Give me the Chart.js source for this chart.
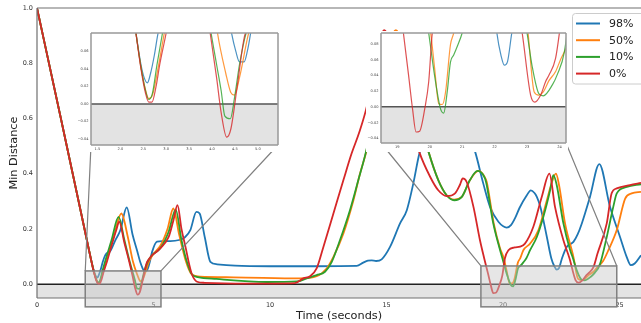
<!DOCTYPE html>
<html>
<head>
<meta charset="utf-8">
<script src="https://cdn.jsdelivr.net/npm/chart.js@4.4.1/dist/chart.umd.min.js"></script>
<style>
  html, body { margin: 0; padding: 0; background: #fff; }
  #wrap { position: relative; width: 641px; height: 323px; overflow: hidden; }
  #main { position: absolute; left: 0; top: 0; }
  .inset { position: absolute; background: #fff; }
  .inset canvas { position: absolute; left: 0; top: 0; }
</style>
</head>
<body>
<div id="wrap">
  <canvas id="main" width="641" height="323"></canvas>
  <div class="inset" style="left:78px;top:31px;width:202px;height:121px"><canvas id="in1" width="202" height="121"></canvas></div>
  <div class="inset" style="left:366px;top:31px;width:202px;height:121px"><canvas id="in2" width="202" height="121"></canvas></div>
</div>
<script>
// series: [time (s), min distance]
const labels = ['98%', '50%', '10%', '0%'];
const colors = ['#1f77b4', '#ff7f0e', '#2ca02c', '#d62728'];

const dist98 = [[0,1.0],[1,0.61],[2,0.215],[2.33,0.085],[2.45,0.045],[2.52,0.03],[2.59,0.024],[2.66,0.035],[2.74,0.055],[2.82,0.08],[2.93,0.105],[3.05,0.115],[3.12,0.117],[3.36,0.159],[3.58,0.196],[3.85,0.278],[4.1,0.18],[4.3,0.12],[4.43,0.08],[4.52,0.06],[4.6,0.048],[4.7,0.048],[4.77,0.06],[4.84,0.08],[4.94,0.117],[5.15,0.154],[5.4,0.156],[5.72,0.156],[6.1,0.16],[6.35,0.17],[6.58,0.196],[6.84,0.262],[6.98,0.256],[7.2,0.17],[7.44,0.081],[7.73,0.072],[8.5,0.067],[10,0.065],[12,0.065],[13.72,0.066],[14.0,0.078],[14.2,0.085],[14.36,0.086],[14.55,0.084],[14.79,0.09],[15.15,0.135],[15.58,0.22],[15.87,0.268],[16.15,0.365],[16.41,0.473],[17.6,0.74],[18.8,0.48],[19.15,0.365],[19.44,0.28],[19.8,0.226],[20.16,0.205],[20.35,0.215],[20.52,0.24],[20.7,0.275],[21.02,0.322],[21.19,0.34],[21.35,0.33],[21.45,0.316],[21.6,0.28],[21.88,0.171],[22.07,0.094],[22.2,0.065],[22.3,0.053],[22.4,0.058],[22.53,0.094],[22.73,0.135],[23.02,0.153],[23.2,0.18],[23.38,0.22],[23.73,0.316],[24.13,0.435],[24.59,0.28],[25.02,0.171],[25.3,0.1],[25.48,0.069],[25.65,0.075],[25.92,0.105]];

const dist50 = [[0,1.0],[1,0.61],[2,0.215],[2.33,0.085],[2.45,0.042],[2.55,0.016],[2.62,0.006],[2.7,0.01],[2.82,0.04],[2.96,0.081],[3.3,0.175],[3.62,0.256],[3.9,0.17],[4.12,0.081],[4.3,0.035],[4.41,0.013],[4.49,0.01],[4.6,0.03],[4.8,0.081],[5.0,0.11],[5.3,0.14],[5.6,0.2],[5.85,0.274],[6.1,0.18],[6.4,0.08],[6.6,0.04],[6.8,0.03],[7.0,0.027],[8.43,0.025],[11.29,0.021],[12.0,0.029],[12.43,0.057],[12.72,0.099],[13.15,0.184],[13.58,0.304],[13.86,0.4],[14.15,0.486],[14.8,0.75],[15.4,0.92],[16.1,0.7],[16.8,0.48],[17.22,0.377],[17.58,0.322],[17.9,0.306],[18.23,0.316],[18.58,0.377],[18.95,0.41],[19.2,0.39],[19.3,0.37],[19.6,0.22],[19.87,0.13],[20.03,0.094],[20.15,0.05],[20.28,0.004],[20.39,0.003],[20.49,0.019],[20.64,0.079],[20.74,0.094],[20.87,0.123],[21.16,0.147],[21.52,0.196],[21.88,0.304],[22.1,0.37],[22.27,0.4],[22.4,0.36],[22.66,0.22],[23.02,0.099],[23.22,0.019],[23.36,0.015],[23.5,0.019],[23.67,0.033],[23.88,0.045],[24.03,0.06],[24.3,0.085],[24.52,0.123],[24.88,0.196],[25.24,0.31],[25.52,0.329],[25.92,0.334]];

const dist10 = [[0,1.0],[1,0.61],[2,0.215],[2.33,0.085],[2.45,0.042],[2.55,0.015],[2.62,0.005],[2.7,0.012],[2.8,0.045],[2.92,0.081],[3.2,0.16],[3.5,0.244],[3.75,0.16],[3.98,0.081],[4.1,0.045],[4.2,0.015],[4.28,-0.014],[4.4,-0.017],[4.5,0.01],[4.6,0.045],[4.75,0.082],[4.94,0.105],[5.29,0.13],[5.65,0.19],[5.95,0.27],[6.2,0.16],[6.4,0.09],[6.65,0.035],[6.9,0.026],[7.7,0.019],[9.86,0.008],[11.16,0.01],[11.57,0.021],[12.0,0.033],[12.36,0.045],[12.65,0.081],[13.0,0.159],[13.43,0.268],[13.79,0.377],[14.12,0.48],[14.8,0.75],[15.4,0.9],[16.1,0.7],[16.8,0.48],[17.22,0.377],[17.58,0.322],[17.9,0.304],[18.23,0.316],[18.58,0.377],[18.9,0.41],[19.15,0.395],[19.27,0.37],[19.58,0.22],[19.85,0.13],[20.0,0.085],[20.15,0.04],[20.33,-0.002],[20.43,-0.008],[20.54,0.019],[20.64,0.057],[20.74,0.066],[20.87,0.079],[21.0,0.094],[21.16,0.123],[21.45,0.171],[21.73,0.244],[22.02,0.34],[22.16,0.395],[22.3,0.36],[22.59,0.22],[22.88,0.123],[23.0,0.094],[23.16,0.051],[23.36,0.017],[23.5,0.014],[23.78,0.028],[23.94,0.042],[24.15,0.07],[24.45,0.171],[24.73,0.28],[24.88,0.329],[25.31,0.352],[25.92,0.362]];

const dist0 = [[0,1.0],[1,0.61],[2,0.215],[2.33,0.085],[2.45,0.04],[2.55,0.012],[2.62,0.002],[2.69,0.002],[2.78,0.02],[2.86,0.045],[3.0,0.081],[3.2,0.14],[3.4,0.195],[3.53,0.226],[3.75,0.15],[3.96,0.081],[4.1,0.03],[4.2,-0.01],[4.32,-0.038],[4.41,-0.029],[4.55,0.02],[4.7,0.075],[4.8,0.09],[4.94,0.105],[5.1,0.115],[5.29,0.13],[5.65,0.171],[5.85,0.23],[6.03,0.286],[6.2,0.2],[6.37,0.136],[6.55,0.065],[6.65,0.035],[6.87,0.009],[7.2,0.005],[9.0,0.002],[11.07,0.004],[11.43,0.021],[11.72,0.029],[12.0,0.057],[12.29,0.135],[12.72,0.256],[13.15,0.377],[13.5,0.473],[13.83,0.55],[14.15,0.642],[14.5,0.79],[14.9,0.92],[15.6,0.72],[16.4,0.48],[16.87,0.389],[17.22,0.34],[17.58,0.319],[17.94,0.329],[18.15,0.36],[18.27,0.383],[18.44,0.37],[18.73,0.28],[19.01,0.159],[19.19,0.094],[19.35,0.04],[19.47,-0.002],[19.58,-0.032],[19.69,-0.031],[19.85,-0.002],[19.97,0.032],[20.08,0.094],[20.23,0.123],[20.5,0.133],[20.73,0.136],[20.94,0.147],[21.3,0.208],[21.66,0.316],[21.99,0.4],[22.23,0.28],[22.59,0.159],[22.85,0.094],[23.11,0.015],[23.24,0.006],[23.42,0.015],[23.57,0.032],[23.67,0.04],[23.88,0.062],[24.05,0.11],[24.45,0.22],[24.66,0.329],[24.88,0.347],[25.45,0.359],[25.92,0.367]];

// main axes
const xRange = [0, 25.92];
const yRange = [-0.05, 1.0];
const xTicks = [0, 5, 10, 15, 20, 25];
const yTicks = [0, 0.2, 0.4, 0.6, 0.8, 1.0];

// zoomed views
const zoom1X = [1.36, 5.44], zoom1Y = [-0.047, 0.081];
const zoom1XTicks = [1.5, 2.0, 2.5, 3.0, 3.5, 4.0, 4.5, 5.0];
const zoom1YTicks = [-0.04, -0.02, 0, 0.02, 0.04, 0.06];
const zoom2X = [18.5, 24.2], zoom2Y = [-0.046, 0.094];
const zoom2XTicks = [19, 20, 21, 22, 23, 24];
const zoom2YTicks = [-0.04, -0.02, 0, 0.02, 0.04, 0.06, 0.08];

// marked regions on the main axes
const box1X = [2.07, 5.32], box1Y = [-0.082, 0.048];
const box2X = [19.05, 24.88], box2Y = [-0.082, 0.066];

// inset placement (pixels): container and axes margins
const inset1 = {left: 78, top: 31, width: 202, height: 121, pad: {left: 13, top: 2, right: 2, bottom: 7}};
const inset2 = {left: 366, top: 31, width: 202, height: 121, pad: {left: 15, top: 2, right: 2, bottom: 9}};

const FONT = 'DejaVu Sans';

function fade(hex, a) {
	var r = parseInt(hex.slice(1, 3), 16), g = parseInt(hex.slice(3, 5), 16), b = parseInt(hex.slice(5, 7), 16);
	return 'rgba(' + r + ',' + g + ',' + b + ',' + a + ')';
}

function makeDatasets(lineWidth, alpha) {
	var all = [dist98, dist50, dist10, dist0];
	return all.map((pts, i) => ({
		label: labels[i],
		data: pts.map(p => ({x: p[0], y: p[1]})),
		borderColor: fade(colors[i], alpha),
		borderWidth: lineWidth,
		pointRadius: 0,
		fill: false,
		cubicInterpolationMode: 'monotone',
		order: 3 - i
	}));
}

// keep tick labels from pushing the plot area inward
function noLabelPadding(s) {
	s.paddingTop = 0;
	s.paddingBottom = 0;
	s.paddingLeft = 0;
	s.paddingRight = 0;
}

const belowZero = {
	id: 'belowZero',
	beforeDatasetsDraw(chart, args, options) {
		const {ctx, chartArea: {left, right, bottom}, scales: {y}} = chart;
		const y0 = y.getPixelForValue(0);
		ctx.save();
		ctx.fillStyle = '#e3e3e3';
		ctx.fillRect(left, y0, right - left, bottom - y0);
		ctx.strokeStyle = options.lineColor;
		ctx.lineWidth = options.lineWidth;
		ctx.beginPath();
		ctx.moveTo(left, y0);
		ctx.lineTo(right, y0);
		ctx.stroke();
		ctx.restore();
	}
};

const spines = {
	id: 'spines',
	afterDatasetsDraw(chart, args, options) {
		const {ctx, chartArea: a} = chart;
		ctx.save();
		ctx.strokeStyle = options.color;
		ctx.lineWidth = options.width;
		ctx.beginPath();
		ctx.moveTo(a.left, a.top); ctx.lineTo(a.right, a.top);
		ctx.moveTo(a.left, a.top); ctx.lineTo(a.left, a.bottom);
		ctx.moveTo(a.left, a.bottom); ctx.lineTo(a.right, a.bottom);
		if (options.right) { ctx.moveTo(a.right, a.top); ctx.lineTo(a.right, a.bottom); }
		ctx.stroke();
		ctx.restore();
	}
};

const zoomBoxes = {
	id: 'zoomBoxes',
	afterDatasetsDraw(chart) {
		const {ctx, scales: {x, y}} = chart;
		[[box1X, box1Y, inset1], [box2X, box2Y, inset2]].forEach(([bx, by, ins]) => {
			const l = x.getPixelForValue(bx[0]), r = x.getPixelForValue(bx[1]);
			const t = y.getPixelForValue(by[1]), b = y.getPixelForValue(by[0]);
			ctx.save();
			ctx.fillStyle = 'rgba(200,200,200,0.45)';
			ctx.fillRect(l, t, r - l, b - t);
			ctx.strokeStyle = '#808080';
			ctx.lineWidth = 1.5;
			ctx.strokeRect(l, t, r - l, b - t);
			// connectors from the inset's lower corners
			const iy = ins.top + ins.height - ins.pad.bottom;
			const il = ins.left + ins.pad.left, ir = ins.left + ins.width - ins.pad.right;
			ctx.lineWidth = 1.2;
			ctx.beginPath();
			ctx.moveTo(il, iy); ctx.lineTo(l, t);
			ctx.moveTo(ir, iy); ctx.lineTo(r, t);
			ctx.stroke();
			ctx.restore();
		});
	}
};

const legendBox = {
	id: 'legendBox',
	afterDraw(chart) {
		const ctx = chart.ctx;
		ctx.save();
		ctx.fillStyle = 'rgba(255,255,255,0.85)';
		ctx.strokeStyle = '#cccccc';
		ctx.lineWidth = 1;
		ctx.beginPath();
		ctx.roundRect(572.5, 13.5, 80, 70.5, 3);
		ctx.fill();
		ctx.stroke();
		ctx.font = '11px "' + FONT + '"';
		ctx.textBaseline = 'middle';
		chart.data.datasets.forEach((ds, i) => {
			const yy = 23.5 + i * 16.7;
			ctx.strokeStyle = colors[i];
			ctx.lineWidth = 2;
			ctx.beginPath();
			ctx.moveTo(576, yy);
			ctx.lineTo(600, yy);
			ctx.stroke();
			ctx.fillStyle = '#222';
			ctx.fillText(ds.label, 609, yy + 0.5);
		});
		ctx.restore();
	}
};

const axisTitles = {
	id: 'axisTitles',
	afterDraw(chart) {
		const {ctx, chartArea: a} = chart;
		ctx.save();
		ctx.fillStyle = '#222';
		ctx.font = '11.3px "' + FONT + '"';
		ctx.textAlign = 'center';
		ctx.textBaseline = 'middle';
		ctx.fillText('Time (seconds)', (a.left + a.right) / 2, 316);
		ctx.translate(14, 153);
		ctx.rotate(-Math.PI / 2);
		ctx.fillText('Min Distance', 0, 0);
		ctx.restore();
	}
};

function fmtSigned(v, d) {
	return v.toFixed(d).replace('-', '\u2212');
}

new Chart(document.getElementById('main'), {
	type: 'line',
	data: {datasets: makeDatasets(1.8, 1)},
	options: {
		responsive: false,
		animation: false,
		events: [],
		layout: {padding: {top: 8, right: 0, left: 0, bottom: 0}},
		scales: {
			x: {
				type: 'linear',
				min: xRange[0],
				max: xRange[1],
				grid: {display: false, drawTicks: false},
				border: {display: false},
				afterBuildTicks: s => { s.ticks = xTicks.map(v => ({value: v})); },
				afterFit: s => { s.height = 25; noLabelPadding(s); },
				ticks: {
					font: {family: FONT, size: 6.5},
					color: '#333',
					padding: 3,
					maxRotation: 0,
					autoSkip: false,
					callback: v => String(v)
				}
			},
			y: {
				type: 'linear',
				min: yRange[0],
				max: yRange[1],
				grid: {display: false, drawTicks: false},
				border: {display: false},
				afterBuildTicks: s => { s.ticks = yTicks.map(v => ({value: v})); },
				afterFit: s => { s.width = 37; noLabelPadding(s); },
				ticks: {
					font: {family: FONT, size: 6.5},
					color: '#333',
					padding: 4,
					callback: v => v.toFixed(1)
				}
			}
		},
		plugins: {
			legend: {display: false},
			tooltip: {enabled: false},
			belowZero: {lineColor: '#222', lineWidth: 1.5},
			spines: {color: '#707070', width: 1.2, right: false}
		}
	},
	plugins: [belowZero, spines, zoomBoxes, legendBox, axisTitles]
});

function makeInset(id, xr, yr, xt, yt, xDigits, ins) {
	return new Chart(document.getElementById(id), {
		type: 'line',
		data: {datasets: makeDatasets(1.2, 0.8)},
		options: {
			responsive: false,
			animation: false,
			events: [],
			layout: {padding: {top: ins.pad.top, right: ins.pad.right, left: 0, bottom: 0}},
			scales: {
				x: {
					type: 'linear',
					min: xr[0],
					max: xr[1],
					grid: {display: false, drawTicks: false},
					border: {display: false},
					afterBuildTicks: s => { s.ticks = xt.map(v => ({value: v})); },
					afterFit: s => { s.height = ins.pad.bottom; noLabelPadding(s); },
					ticks: {
						font: {family: FONT, size: 3.6},
						color: '#444',
						padding: 2,
						maxRotation: 0,
						autoSkip: false,
						callback: v => v.toFixed(xDigits)
					}
				},
				y: {
					type: 'linear',
					min: yr[0],
					max: yr[1],
					grid: {display: false, drawTicks: false},
					border: {display: false},
					afterBuildTicks: s => { s.ticks = yt.map(v => ({value: v})); },
					afterFit: s => { s.width = ins.pad.left; noLabelPadding(s); },
					ticks: {
						font: {family: FONT, size: 3.6},
						color: '#444',
						padding: 2.5,
						callback: v => fmtSigned(Math.abs(v) < 1e-9 ? 0 : v, 2)
					}
				}
			},
			plugins: {
				legend: {display: false},
				tooltip: {enabled: false},
				belowZero: {lineColor: '#555', lineWidth: 1.5},
				spines: {color: '#999', width: 1.5, right: true}
			}
		},
		plugins: [belowZero, spines]
	});
}

makeInset('in1', zoom1X, zoom1Y, zoom1XTicks, zoom1YTicks, 1, inset1);
makeInset('in2', zoom2X, zoom2Y, zoom2XTicks, zoom2YTicks, 0, inset2);
</script>
</body>
</html>
